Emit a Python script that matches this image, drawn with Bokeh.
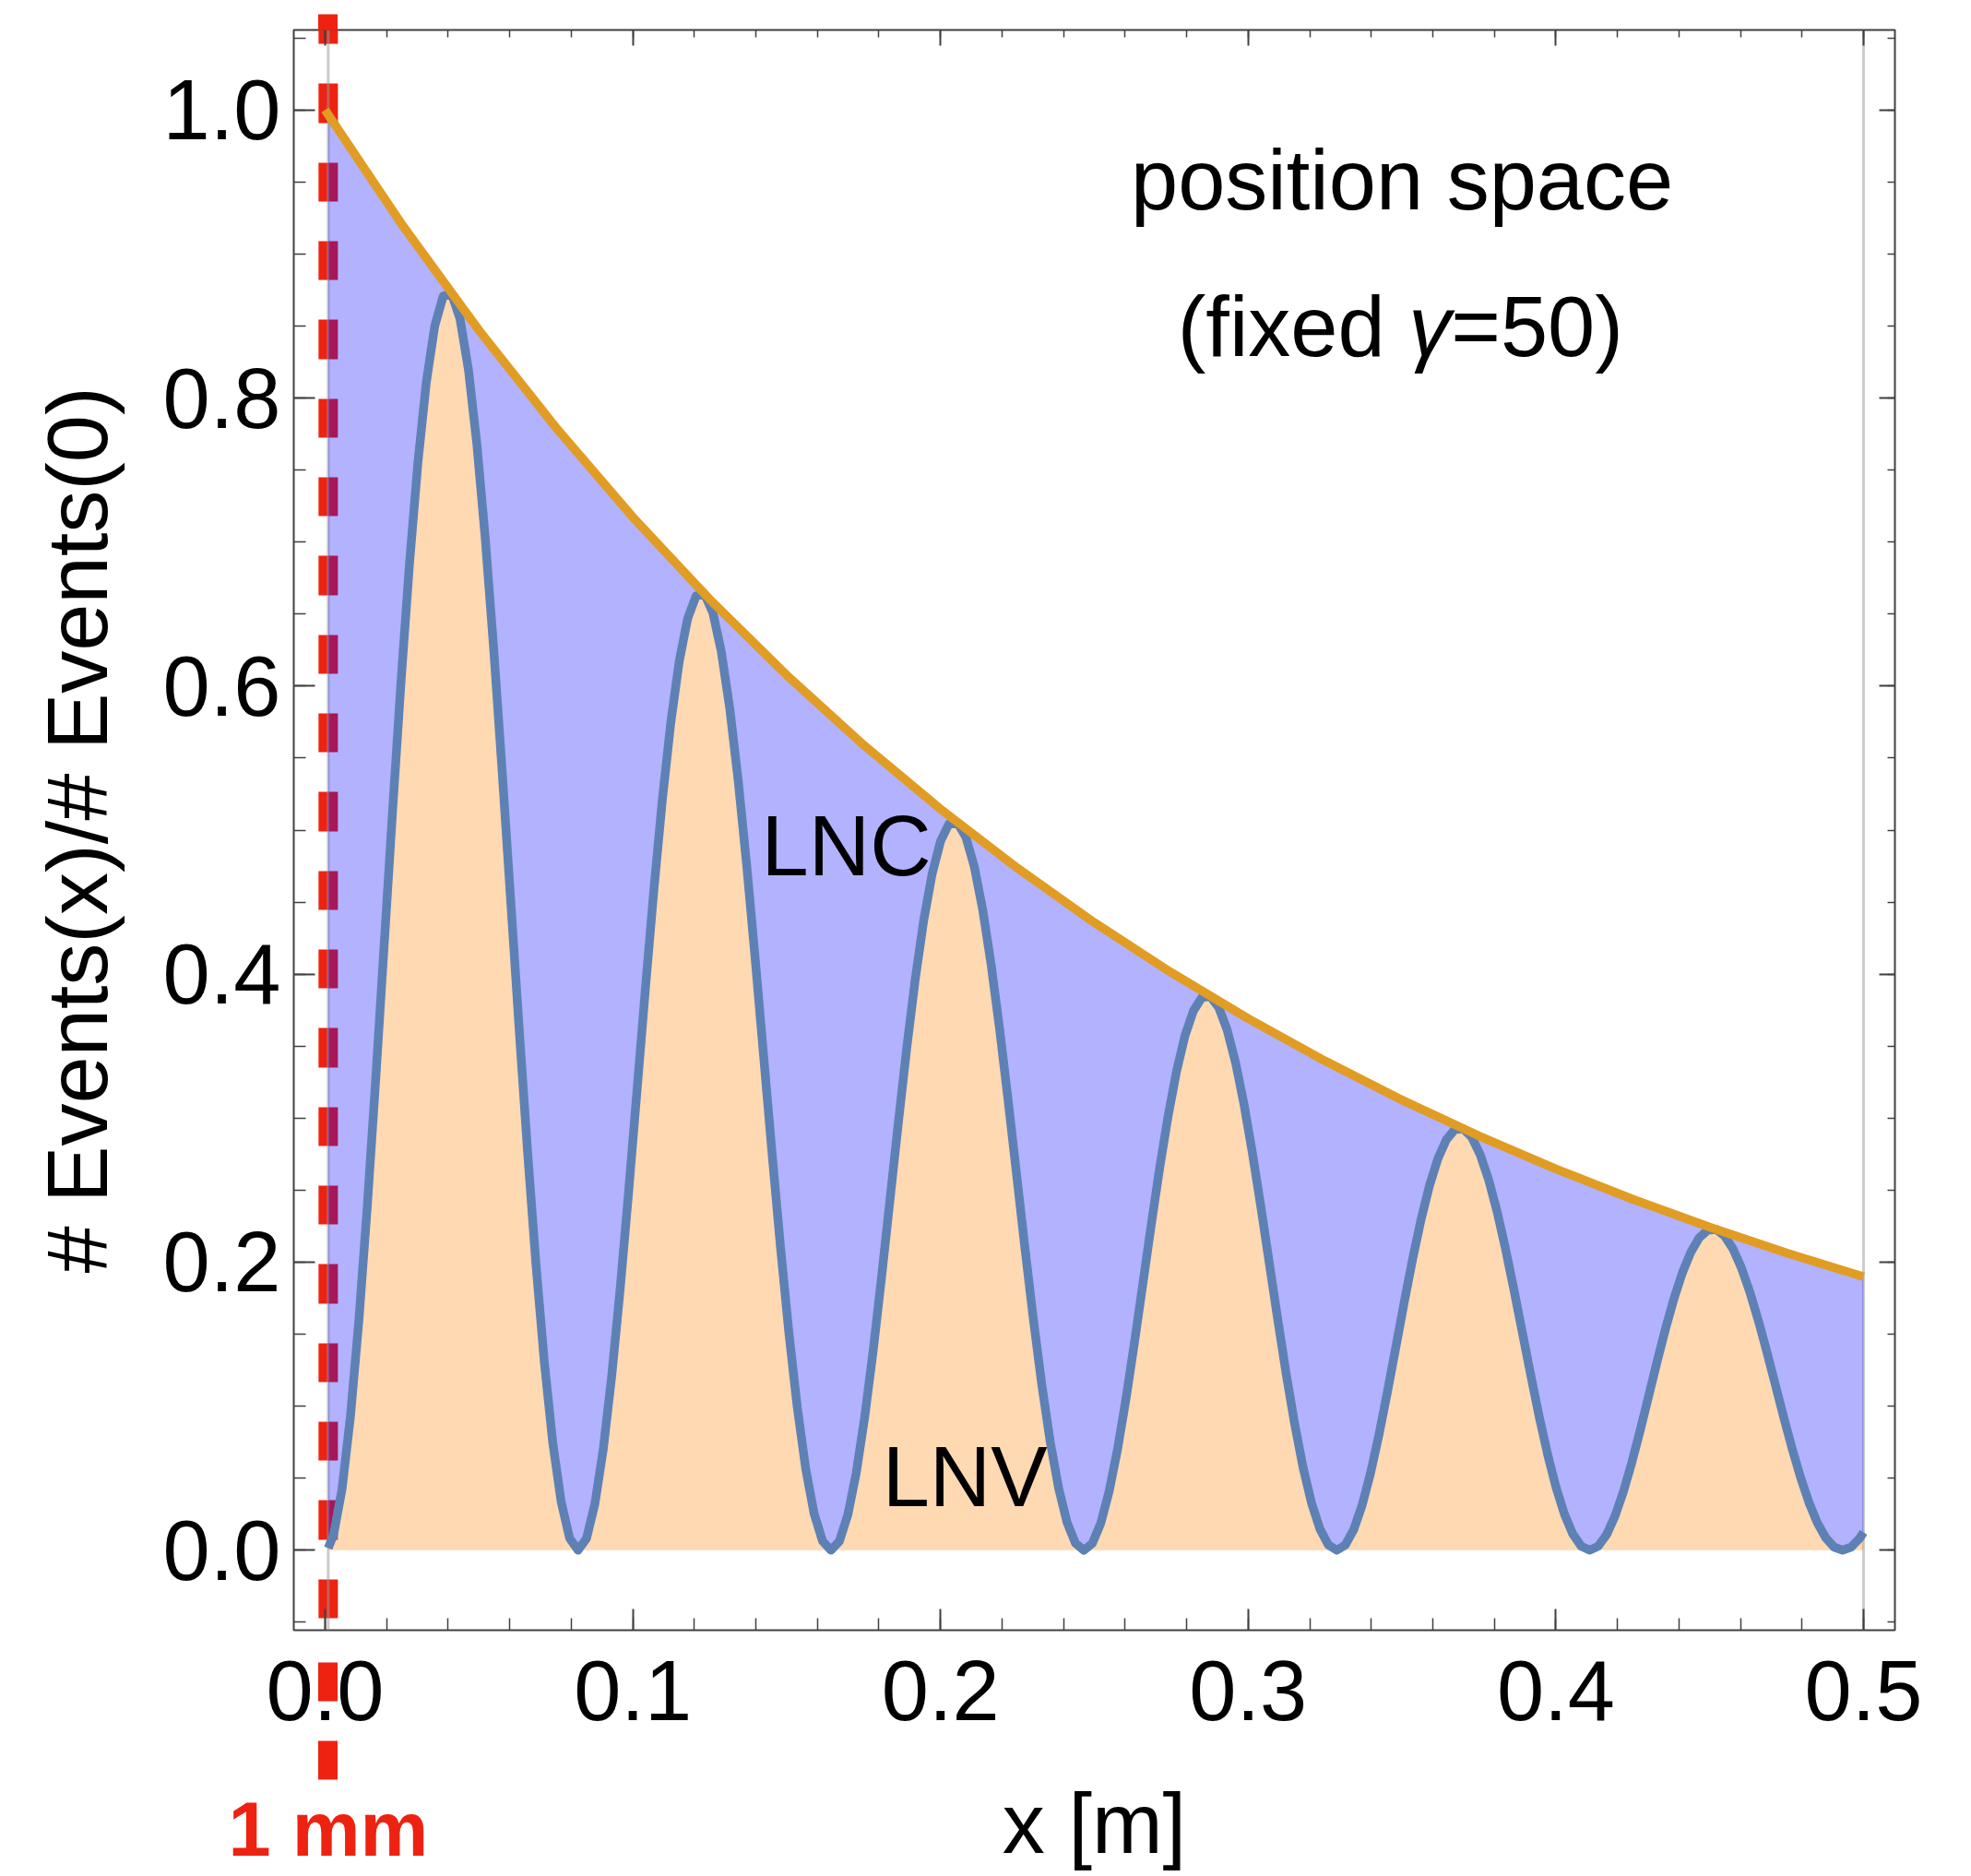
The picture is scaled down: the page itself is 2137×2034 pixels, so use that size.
from bokeh.plotting import figure
from bokeh.models import (LinearAxis, SingleIntervalTicker, FixedTicker, PrintfTickFormatter,
                          CustomJSTickFormatter, Arrow, Span, Range1d)
from bokeh.core.properties import value
from bokeh.embed import file_html
from bokeh.resources import INLINE

# ---------------- data ----------------
# envelope (LNC + LNV total), orange line
env_x = [0.0, 0.001, 0.025, 0.05, 0.075, 0.1, 0.125, 0.15, 0.175, 0.2, 0.225, 0.25,
         0.275, 0.3, 0.325, 0.35, 0.375, 0.4, 0.425, 0.45, 0.475, 0.5]
env_y = [1.0, 0.9967, 0.9203, 0.8470, 0.7795, 0.7173, 0.6602, 0.6076, 0.5591, 0.5146,
         0.4736, 0.4358, 0.4011, 0.3691, 0.3397, 0.3126, 0.2877, 0.2648, 0.2437,
         0.2243, 0.2064, 0.1899]

# oscillating LNV curve (blue line), sampled every 0.00274 m
lnv_x = [0.001] + [round(0.00274 * k, 5) for k in range(1, 183)] + [0.5]
lnv_y = [0.0015,
         0.0108, 0.0424, 0.0929, 0.1595, 0.2389, 0.3271, 0.4201, 0.5135, 0.6030, 0.6847,
         0.7550, 0.8109, 0.8500, 0.8707, 0.8724, 0.8550, 0.8196, 0.7678, 0.7020, 0.6252,
         0.5406, 0.4520, 0.3632, 0.2777, 0.1991, 0.1306, 0.0747, 0.0335, 0.0084, 0.0,
         0.0082, 0.0323, 0.0707, 0.1214, 0.1818, 0.2490, 0.3197, 0.3908, 0.4589, 0.5211,
         0.5746, 0.6171, 0.6469, 0.6626, 0.6639, 0.6507, 0.6237, 0.5843, 0.5342, 0.4758,
         0.4114, 0.3440, 0.2764, 0.2113, 0.1515, 0.0994, 0.0568, 0.0255, 0.0064, 0.0,
         0.0063, 0.0246, 0.0538, 0.0924, 0.1383, 0.1895, 0.2433, 0.2974, 0.3492, 0.3966,
         0.4373, 0.4696, 0.4923, 0.5043, 0.5052, 0.4952, 0.4747, 0.4447, 0.4066, 0.3621,
         0.3131, 0.2618, 0.2103, 0.1608, 0.1153, 0.0756, 0.0433, 0.0194, 0.0049, 0.0,
         0.0048, 0.0187, 0.0410, 0.0703, 0.1053, 0.1442, 0.1852, 0.2263, 0.2658, 0.3018,
         0.3328, 0.3574, 0.3746, 0.3838, 0.3845, 0.3769, 0.3612, 0.3384, 0.3094, 0.2755,
         0.2383, 0.1992, 0.1601, 0.1224, 0.0878, 0.0575, 0.0329, 0.0148, 0.0037, 0.0,
         0.0036, 0.0142, 0.0312, 0.0535, 0.0801, 0.1097, 0.1409, 0.1722, 0.2023, 0.2297,
         0.2533, 0.2720, 0.2851, 0.2921, 0.2926, 0.2868, 0.2749, 0.2575, 0.2355, 0.2097,
         0.1813, 0.1516, 0.1218, 0.0931, 0.0668, 0.0438, 0.0251, 0.0112, 0.0028, 0.0,
         0.0028, 0.0108, 0.0237, 0.0407, 0.0610, 0.0835, 0.1072, 0.1311, 0.1539, 0.1748,
         0.1927, 0.2070, 0.2170, 0.2223, 0.2227, 0.2183, 0.2092, 0.1960, 0.1792, 0.1596,
         0.1380, 0.1154, 0.0927, 0.0709, 0.0508, 0.0333, 0.0191, 0.0086, 0.0021, 0.0,
         0.0021, 0.0082,
         0.0125]

marker_x = 0.001          # the "1 mm" line
marker_label = "1 mm"
x_tick_step = 0.1
y_tick_step = 0.2

# ---------------- styling ----------------
FONT = "Liberation Sans"
RED = "#ee2211"
BLUE_LINE = "#5e81b5"
ORANGE_LINE = "#e19c24"
FRAME = "#404040"
DASH = "42 43 43 43 42 43"

p = figure(frame_width=1736, frame_height=1735,
           x_range=Range1d(-0.0102, 0.5102), y_range=Range1d(-0.0555, 1.0555),
           output_backend="svg", toolbar_location=None,
           x_axis_location=None, y_axis_location=None,
           min_border_left=318, min_border_right=83,
           min_border_top=32, min_border_bottom=267)
p.xgrid.visible = False
p.ygrid.visible = False
p.outline_line_color = FRAME
p.outline_line_width = 2
p.background_fill_color = "white"
p.border_fill_color = "white"

common = dict(major_tick_out=0, minor_tick_out=0,
              major_tick_line_color=FRAME, minor_tick_line_color=FRAME,
              major_tick_line_width=2, minor_tick_line_width=1.5,
              axis_line_color=None,
              major_label_text_font=FONT, major_label_text_font_size="92px",
              major_label_text_color="black",
              axis_label_text_font=FONT, axis_label_text_font_size="92px",
              axis_label_text_font_style="normal", axis_label_text_color="black")

# main bottom axis: ticks + tick labels
xb = LinearAxis(ticker=SingleIntervalTicker(interval=x_tick_step, num_minor_ticks=5),
                formatter=PrintfTickFormatter(format="%.1f"),
                major_tick_in=23, minor_tick_in=13, major_label_standoff=33, **common)
p.add_layout(xb, "below")

# second bottom axis: the two red dashes of the "1 mm" marker below the frame
# (one drawn as major tick, one as minor tick), its label and the x-axis title
mk = LinearAxis(ticker=FixedTicker(ticks=[marker_x], minor_ticks=[marker_x]),
                formatter=CustomJSTickFormatter(code="return '%s';" % marker_label),
                major_tick_in=-20, major_tick_out=62, minor_tick_in=65, minor_tick_out=-23,
                major_tick_line_color=RED, major_tick_line_width=21,
                major_tick_line_cap="butt",
                minor_tick_line_color=RED, minor_tick_line_width=21,
                minor_tick_line_cap="butt",
                axis_line_color=None,
                major_label_text_font=FONT, major_label_text_font_size="83px",
                major_label_text_font_style="bold", major_label_text_color=RED,
                major_label_standoff=7,
                axis_label="x [m]", axis_label_text_font=FONT,
                axis_label_text_font_size="92px", axis_label_text_font_style="normal",
                axis_label_text_color="black", axis_label_standoff=-107)
p.add_layout(mk, "below")

yl = LinearAxis(ticker=SingleIntervalTicker(interval=y_tick_step, num_minor_ticks=4),
                formatter=PrintfTickFormatter(format="%.1f"),
                axis_label="# Events(x)/# Events(0)", major_tick_in=23, minor_tick_in=13,
                major_label_standoff=14, axis_label_standoff=39, **common)
p.add_layout(yl, "left")

mirror = dict(common)
mirror["major_label_text_font_size"] = "1px"
xt = LinearAxis(ticker=SingleIntervalTicker(interval=x_tick_step, num_minor_ticks=5),
                formatter=CustomJSTickFormatter(code="return '';"),
                major_tick_in=17, minor_tick_in=8, major_label_standoff=0, **mirror)
p.add_layout(xt, "above")
# top stub of the red dashed marker above the frame
mk_top = LinearAxis(ticker=FixedTicker(ticks=[marker_x], minor_ticks=[]),
                    formatter=CustomJSTickFormatter(code="return '';"),
                    major_tick_in=0, major_tick_out=17, minor_tick_in=0, minor_tick_out=0,
                    major_tick_line_color=RED, major_tick_line_width=21,
                    major_tick_line_cap="butt", axis_line_color=None,
                    major_label_text_font_size="1px", major_label_standoff=0)
p.add_layout(mk_top, "above")

yr = LinearAxis(ticker=SingleIntervalTicker(interval=y_tick_step, num_minor_ticks=4),
                formatter=CustomJSTickFormatter(code="return '';"),
                major_tick_in=17, minor_tick_in=8, major_label_standoff=0, **mirror)
p.add_layout(yr, "right")

# red dashed 1 mm line inside the frame (under the translucent fills)
red_line = Arrow(start=None, end=None, x_start=marker_x, y_start=1.0664,
                 x_end=marker_x, y_end=-0.1559, line_color=RED, line_width=21,
                 line_dash=DASH, line_dash_offset=10, line_cap="butt",
                 level="underlay")
p.add_layout(red_line)

for loc in (lnv_x[0], lnv_x[-1]):
    p.add_layout(Span(location=loc, dimension="height", line_color="#999999",
                      line_alpha=0.5, line_width=3, level="underlay"))

# fills
p.varea(x=lnv_x, y1=0, y2=lnv_y, fill_color="#ff8000", fill_alpha=0.3)
p.patch(env_x[1:] + lnv_x[::-1], env_y[1:] + lnv_y[::-1], fill_color="#0000ff",
        fill_alpha=0.3, line_color=None)

# lines
p.line(lnv_x, lnv_y, line_color=BLUE_LINE, line_width=9.5, line_join="round")
p.line(env_x, env_y, line_color=ORANGE_LINE, line_width=9.5, line_join="round")

# texts
tf = value(FONT)
txt = dict(text_font=tf, text_font_size="92px", text_baseline="alphabetic",
           text_color="black")
p.text(x=[0.35], y=[0.9512], text=["position space"], text_align="center", **txt)
p.text(x=[0.3495], y=[0.8496], text=["(fixed "], text_align="left", x_offset=-241.7, **txt)
p.text(x=[0.3495], y=[0.8496], text=["γ"], text_align="left", text_font_style="italic",
       x_offset=8.8, **txt)
p.text(x=[0.3495], y=[0.8496], text=["=50)"], text_align="left", x_offset=54.8, **txt)
p.text(x=[0.1418], y=[0.4889], text=["LNC"], text_align="left", **txt)
p.text(x=[0.1811], y=[0.0510], text=["LNV"], text_align="left", **txt)

open("out.html", "w").write(file_html(p, INLINE))
